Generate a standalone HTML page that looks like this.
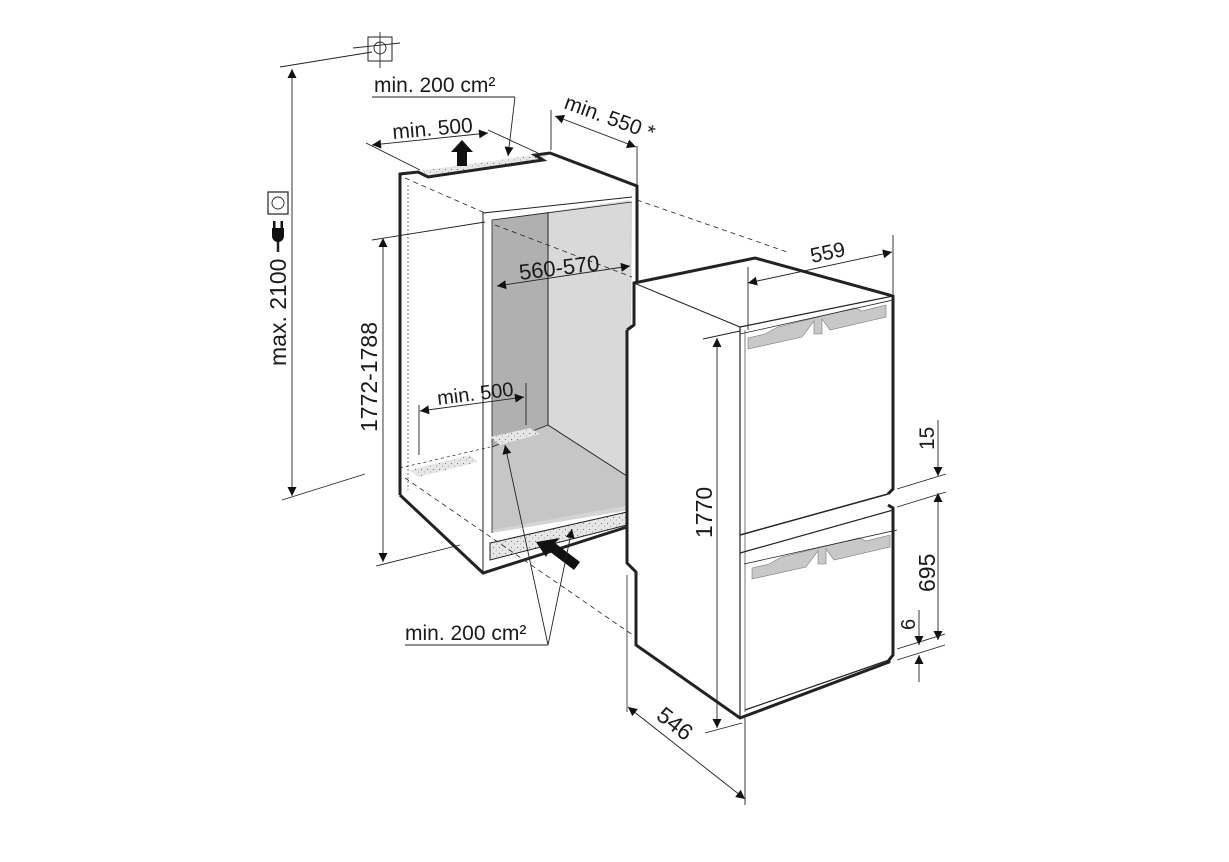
<!DOCTYPE html>
<html><head><meta charset="utf-8"><style>
html,body{margin:0;padding:0;background:#fff;}
svg{display:block;}
text{font-family:"Liberation Sans",Arial,sans-serif;fill:#1a1a1a;}
</style></head><body>
<svg width="1229" height="862" viewBox="0 0 1229 862" xmlns="http://www.w3.org/2000/svg">
<defs>
<marker id="a" viewBox="0 0 10 10" refX="10" refY="5" markerWidth="13" markerHeight="9" markerUnits="userSpaceOnUse" orient="auto-start-reverse"><path d="M0,0L10,5L0,10z" fill="#111"/></marker>
<pattern id="dots" width="6" height="6" patternUnits="userSpaceOnUse"><rect width="6" height="6" fill="#e6e6e6"/><circle cx="1.5" cy="1.5" r="0.6" fill="#777"/><circle cx="4.5" cy="4" r="0.5" fill="#888"/></pattern>
</defs>
<g stroke="#222" fill="none">
<polygon points="492,220 632,202 630,510 492,533" fill="#d4d4d4" stroke="none"/>
<polygon points="492,220 548,212 548,425 492,447" fill="#b0b0b0" stroke="none"/>
<polygon points="548,212 630,200 630,478 548,425" fill="#d9d9d9" stroke="none"/>
<polygon points="492,447 548,425 630,478 630,505 492,530" fill="#c6c6c6" stroke="none"/>
<polyline points="548,212 548,425 630,478" stroke-width="1"/>
<polyline points="492,447 548,425" stroke-width="0.8"/>
<polyline points="483,573 483,213 632,197" stroke-width="1"/>
<polyline points="492,533 492,220 632,202" stroke-width="0.8"/>
<line x1="408" y1="185" x2="408" y2="490" stroke-width="0.6" stroke-dasharray="2,2"/>
<polygon points="490,543 627,512 627,525 490,560" fill="url(#dots)" stroke-width="1"/>
<polygon points="410,470 470,455 478,462 418,477" fill="url(#dots)" stroke="none"/>
<polygon points="490,437 530,428 540,434 500,445" fill="url(#dots)" stroke="none"/>
<line x1="400" y1="468" x2="490" y2="447" stroke-width="0.7" stroke-dasharray="3,3"/>
<polygon points="419,171 535,155 550,153 543,160 428,177" fill="url(#dots)" stroke="none"/>
<polyline points="400,495 400,174 418,172 428,177 543,160 535,155 550,153 637,186 637,283" stroke-width="3"/>
<polyline points="400,495 483,573 627,527" stroke-width="3"/>
<line x1="405" y1="178" x2="485" y2="213" stroke-width="0.8" stroke-dasharray="5,4"/>
<line x1="495" y1="225" x2="632" y2="277" stroke-width="0.8" stroke-dasharray="5,4"/>
<line x1="637" y1="200" x2="790" y2="253" stroke-width="0.8" stroke-dasharray="5,4"/>
<line x1="405" y1="478" x2="640" y2="640" stroke-width="0.8" stroke-dasharray="5,4"/>
<polygon points="634,283 755,258 893,296 893,489 888,494 888,505 893,508 893,655 889,660 889,662 740,718 636,645 636,572 627,563 627,330 634,325" fill="#fff" stroke="none"/>
<polyline points="627,330 634,325 634,283 755,258 893,296 893,489 888,494" stroke-width="3"/>
<polyline points="888,505 893,508 893,655 889,660 889,662 740,718 636,645 636,572 627,563 627,330" stroke-width="3"/>
<line x1="634" y1="283" x2="740" y2="327" stroke-width="1"/>
<line x1="740" y1="327" x2="740" y2="718" stroke-width="1.2"/>
<line x1="745" y1="330" x2="745" y2="712" stroke-width="0.6"/>
<line x1="740" y1="327" x2="893" y2="296" stroke-width="1.2"/>
<line x1="740" y1="535" x2="888" y2="494" stroke-width="1.5"/>
<line x1="740" y1="553" x2="893" y2="510" stroke-width="1.2"/>
<line x1="745" y1="710" x2="889" y2="660" stroke-width="1.2"/>
<line x1="627" y1="575" x2="627" y2="712" stroke-width="0.8"/>
<g id="h"><polygon points="748,338 765,334 778,327 855,308 862,311 886,305 886,317 830,330 822,319 822,334 814,334 814,321 802,337 748,349" fill="#c8c8c8" stroke="#777" stroke-width="0.6"/>
<line x1="740" y1="334" x2="893" y2="300" stroke-width="0.8"/></g>
<use href="#h" transform="translate(4,230)"/>
</g>
<polygon points="462,140 473,152 467,152 467,166 457,166 457,152 451,152" fill="#111"/>
<polygon points="536,542 560,538 555,543 580,562 574,570 549,551 546,557" fill="#111"/>
<g stroke="#222" stroke-width="0.9" fill="none">
<line x1="292" y1="69" x2="292" y2="496" marker-start="url(#a)" marker-end="url(#a)"/>
<line x1="280" y1="67" x2="372" y2="52"/>
<line x1="282" y1="500" x2="365" y2="474"/>
<line x1="353" y1="48" x2="400" y2="43"/>
<line x1="380" y1="32" x2="380" y2="68"/>
<rect x="368" y="37" width="24" height="24" stroke-width="1"/>
<circle cx="380" cy="48" r="6"/>
<rect x="268" y="192" width="20" height="22" stroke-width="1.2"/>
<circle cx="278" cy="203" r="6"/>
<line x1="383" y1="238" x2="383" y2="562" marker-start="url(#a)" marker-end="url(#a)"/>
<line x1="372" y1="240" x2="485" y2="222"/>
<line x1="376" y1="566" x2="460" y2="545"/>
<line x1="372" y1="97" x2="515" y2="97"/>
<line x1="515" y1="97" x2="508" y2="156" marker-end="url(#a)"/>
<line x1="372" y1="145" x2="488" y2="133" marker-start="url(#a)" marker-end="url(#a)"/>
<line x1="366" y1="143" x2="420" y2="170"/>
<line x1="488" y1="130" x2="538" y2="153"/>
<line x1="551" y1="110" x2="551" y2="150"/>
<line x1="637" y1="146" x2="637" y2="186"/>
<line x1="555" y1="116" x2="636" y2="147" marker-start="url(#a)" marker-end="url(#a)"/>
<line x1="497" y1="286" x2="630" y2="266" marker-start="url(#a)" marker-end="url(#a)"/>
<line x1="420" y1="411" x2="524" y2="397" marker-start="url(#a)" marker-end="url(#a)"/>
<line x1="419" y1="405" x2="419" y2="455"/>
<line x1="526" y1="383" x2="526" y2="425"/>
<line x1="405" y1="645" x2="548" y2="645"/>
<line x1="548" y1="645" x2="505" y2="445" marker-end="url(#a)"/>
<line x1="548" y1="645" x2="572" y2="529" marker-end="url(#a)"/>
<line x1="748" y1="283" x2="892" y2="252" marker-start="url(#a)" marker-end="url(#a)"/>
<line x1="748" y1="267" x2="748" y2="330"/>
<line x1="893" y1="235" x2="893" y2="294"/>
<line x1="717" y1="338" x2="717" y2="728" marker-start="url(#a)" marker-end="url(#a)"/>
<line x1="703" y1="339" x2="740" y2="331"/>
<line x1="705" y1="733" x2="742" y2="723"/>
<line x1="628" y1="707" x2="745" y2="799" marker-start="url(#a)" marker-end="url(#a)"/>
<line x1="745" y1="718" x2="745" y2="805"/>
<line x1="938" y1="420" x2="938" y2="476" marker-end="url(#a)"/>
<line x1="938" y1="493" x2="938" y2="640" marker-start="url(#a)" marker-end="url(#a)"/>
<line x1="897" y1="489" x2="946" y2="474"/>
<line x1="897" y1="507" x2="946" y2="492"/>
<line x1="897" y1="649" x2="945" y2="634"/>
<line x1="897" y1="660" x2="945" y2="645"/>
<line x1="919" y1="610" x2="919" y2="645" marker-end="url(#a)"/>
<line x1="919" y1="682" x2="919" y2="655" marker-end="url(#a)"/>
<line x1="278" y1="236" x2="278" y2="252" stroke-width="2.5"/>
</g>
<path d="M272,228h12v8a6,6 0 0 1 -12,0z" fill="#111"/>
<rect x="273" y="221" width="2.5" height="8" fill="#111"/><rect x="280.5" y="221" width="2.5" height="8" fill="#111"/>
<text x="374" y="92" font-size="21">min. 200 cm²</text>
<text x="393" y="139" font-size="21" transform="rotate(-5 393 139)">min. 500</text>
<text x="563" y="108" font-size="21" transform="rotate(20 563 108)">min. 550 *</text>
<text x="520" y="280" font-size="22" transform="rotate(-7 520 280)">560-570</text>
<text x="438" y="405" font-size="20" transform="rotate(-7 438 405)">min. 500</text>
<text x="405" y="640" font-size="21">min. 200 cm²</text>
<text x="812" y="263" font-size="21" transform="rotate(-12 812 263)">559</text>
<text x="286" y="366" font-size="23" transform="rotate(-90 286 366)">max. 2100</text>
<text x="377" y="432" font-size="23" transform="rotate(-90 377 432)">1772-1788</text>
<text x="712" y="538" font-size="23" transform="rotate(-90 712 538)">1770</text>
<text x="655" y="718" font-size="23" transform="rotate(38 655 718)">546</text>
<text x="934" y="450" font-size="21" transform="rotate(-90 934 450)">15</text>
<text x="935" y="592" font-size="23" transform="rotate(-90 935 592)">695</text>
<text x="915" y="630" font-size="20" transform="rotate(-90 915 630)">6</text>
</svg>
</body></html>
